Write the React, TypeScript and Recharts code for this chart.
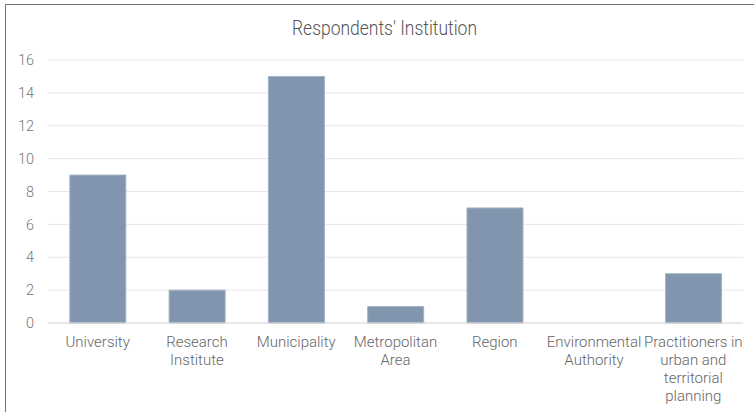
import { BarChart, Bar, XAxis, YAxis, CartesianGrid } from "recharts";

const categories = [
    "University",
    "Research Institute",
    "Municipality",
    "Metropolitan Area",
    "Region",
    "Environmental Authority",
    "Practitioners in urban and territorial planning",
];
// how each category label is broken into lines under the axis
const categoryLines = [
    ["University"],
    ["Research", "Institute"],
    ["Municipality"],
    ["Metropolitan", "Area"],
    ["Region"],
    ["Environmental", "Authority"],
    ["Practitioners in", "urban and", "territorial", "planning"],
];
const respondents = [9, 2, 15, 1, 7, 0, 3];
const yTicks = [0, 2, 4, 6, 8, 10, 12, 14, 16];

const data = categories.map((name, i) => ({ name, value: respondents[i] }));

const font = "Roboto, 'Noto Sans', sans-serif";

function CategoryTick(props: any) {
    const { x, y, index } = props;
    const lines = categoryLines[index] || [];
    return (
        <text
            x={x}
            y={y}
            textAnchor="middle"
            fill="#666"
            style={{ fontFamily: font, fontSize: 15, fontWeight: 300 }}
        >
            {lines.map((line, i) => (
                <tspan key={i} x={x} dy={i === 0 ? 10 : 18}>
                    {line}
                </tspan>
            ))}
        </text>
    );
}

export default function App() {
    return (
        <div style={{ position: "absolute", left: 0, top: 0, width: 754, height: 412, background: "#fff", overflow: "hidden" }}>
            <div
                style={{
                    position: "absolute",
                    left: 5,
                    top: 4,
                    width: 800,
                    height: 420,
                    border: "1.5px solid #777",
                    boxSizing: "border-box",
                }}
            />
            <BarChart
                width={754}
                height={412}
                data={data}
                margin={{ top: 60, right: 11, bottom: 0, left: 0 }}
                barCategoryGap="22%"
                style={{ position: "absolute", left: 0, top: 0 }}
            >
                <text
                    x={384.5}
                    y={35}
                    textAnchor="middle"
                    textLength={185}
                    lengthAdjust="spacingAndGlyphs"
                    fill="#555"
                    style={{ fontFamily: font, fontSize: 20, fontWeight: 300 }}
                >
                    Respondents' Institution
                </text>
                <CartesianGrid vertical={false} stroke="#e6e6e6" />
                <XAxis
                    dataKey="name"
                    interval={0}
                    height={89}
                    tickLine={false}
                    tickSize={0}
                    tickMargin={14}
                    axisLine={{ stroke: "#dcdcdc" }}
                    tick={<CategoryTick />}
                />
                <YAxis
                    width={48}
                    domain={[0, 16]}
                    ticks={yTicks}
                    interval={0}
                    axisLine={false}
                    tickLine={false}
                    tickSize={0}
                    tickMargin={14}
                    tick={{ fill: "#777", fontSize: 14.5, fontFamily: font, fontWeight: 300 }}
                />
                <Bar dataKey="value" fill="#8196ae" stroke="#a3b2c3" strokeWidth={1} isAnimationActive={false} />
            </BarChart>
        </div>
    );
}
